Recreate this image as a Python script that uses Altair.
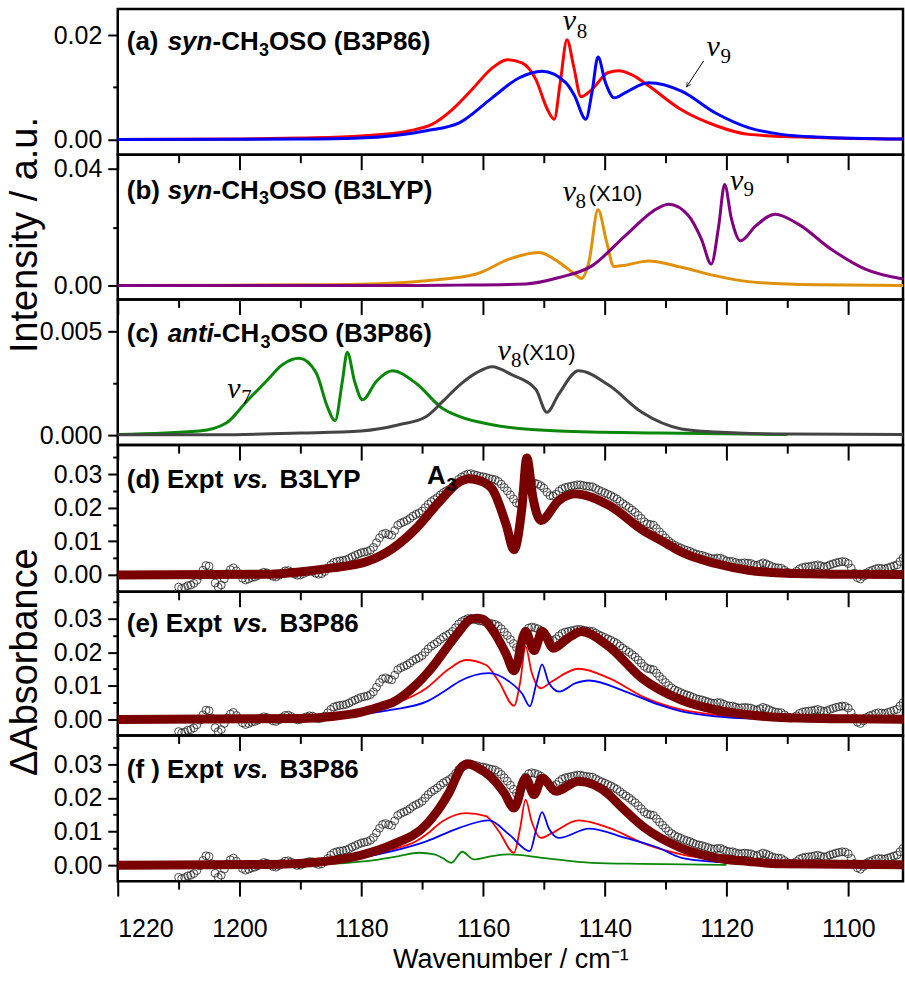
import altair as alt
import pandas as pd

# ---------------- data ----------------
X_DOMAIN = [1220, 1091]
X_MAJOR = [1220, 1200, 1180, 1160, 1140, 1120, 1100]
X_MINOR = [1210, 1190, 1170, 1150, 1130, 1110]

# (a) syn-CH3OSO (B3P86)
a_red_w = [1220, 1200, 1190, 1180, 1172, 1168.4, 1165, 1161.8, 1158.5, 1156, 1153.6, 1151.3, 1149.5, 1148.3,
           1147.3, 1146.2, 1145.1, 1143.9, 1142.1, 1139.5, 1137.7, 1135.5, 1132.8, 1127.4, 1121.8, 1116.4, 1105.4, 1091]
a_red_v = [0.0, 0.0001, 0.0003, 0.0007, 0.0017, 0.0029, 0.0058, 0.0096, 0.0137, 0.0153, 0.0147, 0.0115, 0.0060, 0.0039,
           0.0110, 0.0191, 0.0140, 0.0082, 0.0096, 0.0128, 0.0132, 0.0124, 0.0103, 0.0057, 0.0027, 0.0010, 0.0004, 0.0001]
a_blue_w = [1220, 1190, 1180.3, 1169.3, 1163.9, 1158.5, 1154.1, 1150.3, 1146.4, 1145, 1143.1, 1142.1, 1141.1, 1139.9,
            1138.4, 1136.6, 1132.8, 1127.4, 1121.8, 1116.4, 1111, 1105.4, 1091]
a_blue_v = [0.0, 0.0001, 0.0003, 0.0017, 0.0032, 0.0080, 0.0118, 0.0131, 0.0109, 0.0085, 0.0039, 0.0090, 0.0158, 0.0110,
            0.0080, 0.0090, 0.0109, 0.0093, 0.0051, 0.0023, 0.0010, 0.0005, 0.0001]

# (b) syn-CH3OSO (B3LYP)
b_orange_w = [1220, 1190, 1180.3, 1169.3, 1161.1, 1155.7, 1150.8, 1147.5, 1145, 1143.8, 1142.6, 1141.1, 1139.7, 1138.5,
              1137, 1132.8, 1127.4, 1121.8, 1116.4, 1105.4, 1091]
b_orange_v = [0.0, 0.0002, 0.0004, 0.0016, 0.0039, 0.0090, 0.0113, 0.0079, 0.0040, 0.0024, 0.0080, 0.0259, 0.0150, 0.0065,
              0.0068, 0.0084, 0.0062, 0.0033, 0.0013, 0.0002, 0.0]
b_purple_w = [1220, 1170, 1163.9, 1153, 1147.5, 1142.1, 1136.6, 1131.1, 1129.5, 1126.2, 1124.1, 1122.5, 1121.3, 1120.3,
              1119.2, 1117.7, 1115.2, 1112, 1108.2, 1102.8, 1097.2, 1091]
b_purple_v = [0.0, 0.0, 0.0001, 0.0005, 0.0027, 0.0067, 0.0171, 0.0267, 0.0278, 0.0238, 0.0158, 0.0073, 0.0200, 0.0346,
              0.0230, 0.0153, 0.0204, 0.0244, 0.0210, 0.0124, 0.0056, 0.0022]

# (c) anti-CH3OSO (B3P86)
c_green_w = [1220, 1206.6, 1202.1, 1198.9, 1195.6, 1192.9, 1190.2, 1187.4, 1185.6, 1184.3, 1183.1, 1182.3, 1181.1, 1179.8,
             1177.5, 1174.9, 1171, 1166.7, 1163.9, 1158.5, 1147.5, 1131, 1110]
c_green_v = [0.00003, 0.0002, 0.0006, 0.0016, 0.0026, 0.0034, 0.0037, 0.0030, 0.0014, 0.0007, 0.0026, 0.0040, 0.0026, 0.0017,
             0.0026, 0.0031, 0.0025, 0.0013, 0.0009, 0.0005, 0.0002, 0.0001, 0.00003]
c_gray_w = [1220, 1203.6, 1190, 1180, 1173.8, 1169.3, 1166.7, 1163.9, 1161.1, 1158.5, 1155.2, 1151.3, 1149.5, 1147.5,
            1144.3, 1139.3, 1133.9, 1127.4, 1121.8, 1110, 1091]
c_gray_v = [0.00002, 0.00002, 0.0001, 0.0002, 0.0005, 0.0009, 0.0016, 0.0024, 0.0030, 0.0033, 0.0029, 0.0022, 0.0011, 0.0020,
            0.0031, 0.0024, 0.0011, 0.0003, 0.00015, 0.00005, 0.00003]

# experimental spectrum (shared by d, e, f), sampled every 0.5 cm-1 from 1210 down to 1091
expt_w = [1210 - 0.5 * i for i in range(239)]
expt_v = [
    -0.0036, -0.0040, -0.0037, -0.0032, -0.0030, -0.0025, -0.0016, -0.0002, 0.0014, 0.0028,
    0.0026, 0.0004, -0.0024, -0.0036, -0.0030, -0.0012, 0.0004, 0.0016, 0.0021, 0.0012,
    0.0002, -0.0010, -0.0015, -0.0012, -0.0008, -0.0006, -0.0002, 0.0004, 0.0008, 0.0006,
    0.0001, -0.0004, -0.0006, -0.0001, 0.0006, 0.0012, 0.0013, 0.0009, 0.0003, -0.0001,
    0.0000, 0.0004, 0.0008, 0.0011, 0.0010, 0.0005, 0.0002, 0.0004, 0.0010, 0.0020,
    0.0030, 0.0037, 0.0040, 0.0042, 0.0043, 0.0045, 0.0049, 0.0054, 0.0058, 0.0062,
    0.0066, 0.0068, 0.0070, 0.0074, 0.0082, 0.0096, 0.0110, 0.0121, 0.0124, 0.0120,
    0.0118, 0.0132, 0.0148, 0.0154, 0.0158, 0.0162, 0.0168, 0.0175, 0.0180, 0.0184,
    0.0190, 0.0200, 0.0210, 0.0218, 0.0224, 0.0230, 0.0238, 0.0245, 0.0250, 0.0255,
    0.0262, 0.0273, 0.0284, 0.0291, 0.0296, 0.0300, 0.0301, 0.0298, 0.0296, 0.0293,
    0.0292, 0.0290, 0.0287, 0.0285, 0.0283, 0.0278, 0.0270, 0.0260, 0.0250, 0.0238,
    0.0226, 0.0214, 0.0210, 0.0240, 0.0262, 0.0272, 0.0275, 0.0273, 0.0270, 0.0265,
    0.0258, 0.0246, 0.0236, 0.0235, 0.0240, 0.0249, 0.0256, 0.0260, 0.0262, 0.0264,
    0.0266, 0.0268, 0.0268, 0.0266, 0.0264, 0.0263, 0.0262, 0.0257, 0.0252, 0.0248,
    0.0244, 0.0240, 0.0236, 0.0231, 0.0226, 0.0219, 0.0212, 0.0206, 0.0200, 0.0193,
    0.0186, 0.0177, 0.0168, 0.0158, 0.0152, 0.0150, 0.0148, 0.0138, 0.0128, 0.0119,
    0.0110, 0.0101, 0.0094, 0.0088, 0.0084, 0.0080, 0.0076, 0.0073, 0.0070, 0.0066,
    0.0062, 0.0060, 0.0058, 0.0055, 0.0052, 0.0049, 0.0048, 0.0050, 0.0050, 0.0046,
    0.0042, 0.0040, 0.0040, 0.0037, 0.0034, 0.0035, 0.0036, 0.0035, 0.0034, 0.0030,
    0.0028, 0.0032, 0.0036, 0.0033, 0.0029, 0.0025, 0.0022, 0.0021, 0.0020, 0.0014,
    0.0008, 0.0004, 0.0005, 0.0011, 0.0018, 0.0022, 0.0024, 0.0025, 0.0026, 0.0028,
    0.0030, 0.0027, 0.0024, 0.0026, 0.0030, 0.0033, 0.0036, 0.0038, 0.0040, 0.0039,
    0.0034, 0.0020, 0.0005, -0.0008, -0.0012, -0.0004, 0.0006, 0.0011, 0.0014, 0.0018,
    0.0020, 0.0019, 0.0018, 0.0021, 0.0024, 0.0027, 0.0030, 0.0040, 0.0050,
]

# (d) B3LYP fit
d_fit_w = [1220, 1195, 1190.2, 1184.8, 1179.2, 1174.9, 1171, 1167.2, 1163.9, 1162.3, 1160.5, 1158.5, 1156.2, 1154.9,
           1153.6, 1152.8, 1151.8, 1150.5, 1147.5, 1144.8, 1139.3, 1133.5, 1130, 1127.4, 1121.8, 1116.4, 1111, 1100, 1091]
d_fit_v = [0.0, 0.0002, 0.0009, 0.0021, 0.0039, 0.0078, 0.0138, 0.0217, 0.0276, 0.0286, 0.0280, 0.0256, 0.0150, 0.0075,
           0.0200, 0.0348, 0.0230, 0.0162, 0.0222, 0.0241, 0.0207, 0.0130, 0.0095, 0.0068, 0.0034, 0.0014, 0.0006, 0.0002, 0.0001]

# (e) B3P86 fit and its syn components
e_fit_w = [1220, 1190, 1184.8, 1180, 1176.6, 1174.9, 1171, 1169.3, 1167.5, 1165.6, 1163.9, 1162.3, 1161.1, 1160, 1158.5,
           1156.2, 1154.9, 1153, 1151.6, 1150.3, 1148.4, 1146.4, 1143.8, 1139.3, 1133.9, 1127.4, 1121.8, 1116.4, 1111, 1100, 1091]
e_fit_v = [0.0, 0.0003, 0.0009, 0.0022, 0.0040, 0.0050, 0.0103, 0.0135, 0.0175, 0.0222, 0.0262, 0.0295, 0.0301, 0.0298,
           0.0268, 0.0195, 0.0145, 0.0262, 0.0205, 0.0262, 0.0212, 0.0237, 0.0262, 0.0217, 0.0123, 0.0058, 0.0029, 0.0014,
           0.0006, 0.0002, 0.0001]
e_red_w = [1220, 1195, 1185, 1180.3, 1174.9, 1169.3, 1165.6, 1162.8, 1159.5, 1157.4, 1154.9, 1153.9, 1153, 1152, 1150.5,
           1148.7, 1144.3, 1139.3, 1133.5, 1127.4, 1121.8, 1116.4, 1105, 1091]
e_red_v = [0.0, 0.0003, 0.0008, 0.0019, 0.0044, 0.0093, 0.0150, 0.0177, 0.0162, 0.0113, 0.0041, 0.0110, 0.0217, 0.0140,
           0.0093, 0.0113, 0.0151, 0.0123, 0.0066, 0.0029, 0.0014, 0.0006, 0.0002, 0.0001]
e_blue_w = [1220, 1190, 1185, 1174.9, 1169.3, 1165.6, 1163.9, 1159, 1155.7, 1153.5, 1152.3, 1151.2, 1150.3, 1149.2, 1147.5,
            1144.8, 1142.6, 1136.6, 1131.1, 1127.4, 1121.8, 1116, 1091]
e_blue_v = [0.0, 0.0003, 0.0008, 0.0029, 0.0053, 0.0093, 0.0113, 0.0138, 0.0113, 0.0075, 0.0039, 0.0110, 0.0164, 0.0110,
            0.0083, 0.0108, 0.0116, 0.0083, 0.0044, 0.0024, 0.0009, 0.0003, 0.0001]

# (f) B3P86 fit with syn and anti components
f_fit_w = [1220, 1195, 1185.7, 1180, 1174.9, 1169.3, 1165.6, 1163.4, 1162.5, 1161.1, 1158.5, 1156.5, 1154.9, 1153, 1151.6,
           1150.3, 1148, 1144.3, 1139.3, 1138.2, 1133.5, 1127.4, 1121.8, 1116.4, 1111, 1091]
f_fit_v = [0.0, 0.0002, 0.0012, 0.0030, 0.0061, 0.0121, 0.0215, 0.0294, 0.0302, 0.0292, 0.0259, 0.0215, 0.0170, 0.0259,
           0.0210, 0.0259, 0.0220, 0.0250, 0.0210, 0.0190, 0.0112, 0.0051, 0.0022, 0.0011, 0.0004, 0.0001]
f_red_w = [1220, 1195, 1185, 1179, 1175, 1171, 1169.3, 1166.7, 1162.8, 1159.5, 1157.4, 1154.9, 1153.9, 1153, 1152, 1150.5,
           1148.7, 1144.3, 1139.3, 1133.5, 1127.4, 1121.8, 1116.4, 1105, 1091]
f_red_v = [0.0, 0.0003, 0.0012, 0.0030, 0.0047, 0.0071, 0.0091, 0.0130, 0.0155, 0.0146, 0.0101, 0.0037, 0.0110, 0.0195,
           0.0130, 0.0081, 0.0095, 0.0133, 0.0111, 0.0064, 0.0032, 0.0016, 0.0008, 0.0002, 0.0001]
f_blue_w = [1220, 1190, 1180.3, 1174.9, 1169.3, 1163.9, 1159, 1155.7, 1152.3, 1151.2, 1150.3, 1149.2, 1147.5, 1142.6,
            1136.6, 1131.1, 1127.4, 1121.8, 1116.4, 1091]
f_blue_v = [0.0, 0.0005, 0.0022, 0.0042, 0.0071, 0.0111, 0.0133, 0.0091, 0.0042, 0.0110, 0.0158, 0.0110, 0.0081, 0.0109,
            0.0081, 0.0051, 0.0022, 0.0010, 0.0005, 0.0001]
f_green_w = [1220, 1195, 1187.4, 1179.2, 1173.8, 1170.5, 1168, 1166.7, 1165.2, 1163.4, 1161.5, 1158.5, 1155.7, 1150.3,
             1142.1, 1133.9, 1120]
f_green_v = [0.0, 0.0001, 0.0002, 0.0012, 0.0027, 0.0037, 0.0032, 0.0022, 0.0007, 0.0040, 0.0017, 0.0027, 0.0032, 0.0022,
             0.0007, 0.0004, 0.0001]

# ---------------- styling ----------------
TICK_FONT = "Liberation Sans"
LABEL_FONT = "Liberation Sans"
GREEK_FONT = "Liberation Serif"
TITLE_FONT = "Liberation Sans"

RED, BLUE, ORANGE, PURPLE = "#ff0000", "#0000ff", "#e0900a", "#800080"
GREEN, GRAY, MAROON = "#0a870a", "#444444", "#7a0000"

XS = alt.Scale(domain=X_DOMAIN, nice=False, zero=False)


def yscale(dom):
    return alt.Scale(domain=dom, nice=False, zero=False)


def curve(w, v, color, width, ydom):
    df = pd.DataFrame({"w": w, "v": v})
    return alt.Chart(df).mark_line(color=color, strokeWidth=width, interpolate="monotone", clip=True).encode(
        x=alt.X("w:Q", scale=XS, axis=None),
        y=alt.Y("v:Q", scale=yscale(ydom), axis=None),
        order=alt.Order("w:Q", sort="descending"),
    )


def expt_points(ydom):
    df = pd.DataFrame({"w": expt_w, "v": expt_v})
    return alt.Chart(df).mark_point(shape="circle", filled=False, stroke="#202020", strokeWidth=0.8,
                                    size=62, opacity=1, clip=True).encode(
        x=alt.X("w:Q", scale=XS, axis=None),
        y=alt.Y("v:Q", scale=yscale(ydom), axis=None),
    )


def axis_layers(ydom, ymaj, ymin, fmt, last=False, ytitle=None, title_y=73):
    df = pd.DataFrame({"w": X_DOMAIN, "v": ydom})
    base = alt.Chart(df).mark_line(opacity=0)
    minor = base.encode(
        x=alt.X("w:Q", scale=XS, axis=alt.Axis(values=X_MINOR, orient="bottom", tickSize=8, labels=False,
                                                domain=False, grid=False, title=None)),
        y=alt.Y("v:Q", scale=yscale(ydom), axis=alt.Axis(values=ymin, orient="left", tickSize=5, labels=False,
                                                         domain=False, grid=False, title=None)),
    )
    xkw = dict(values=X_MAJOR, orient="bottom", tickSize=15, domain=False, grid=False)
    if last:
        xkw.update(labels=True, format="d", labelPadding=20, title="Wavenumber / cm\u207b\u00b9",
                   titleFont=TITLE_FONT, titleFontSize=27, titleFontWeight="normal", titlePadding=6)
    else:
        xkw.update(labels=False, title=None)
    ykw = dict(values=ymaj, orient="left", tickSize=10, format=fmt, labelPadding=6, domain=False, grid=False)
    if ytitle:
        ykw.update(title=ytitle, titleFont=TITLE_FONT, titleFontSize=38, titleFontWeight="normal",
                   titleX=-81, titleY=title_y, titleAngle=270, titleAlign="center", titleBaseline="alphabetic")
    else:
        ykw.update(title=None)
    major = base.encode(
        x=alt.X("w:Q", scale=XS, axis=alt.Axis(**xkw)),
        y=alt.Y("v:Q", scale=yscale(ydom), axis=alt.Axis(**ykw)),
    )
    return [minor, major]


def text(t, w, v, ydom, size, font=LABEL_FONT, weight="bold", style="normal", color="black"):
    df = pd.DataFrame({"w": [w], "v": [v], "t": [t]})
    return alt.Chart(df).mark_text(align="left", baseline="alphabetic", font=font, fontSize=size,
                                   fontWeight=weight, fontStyle=style, color=color).encode(
        x=alt.X("w:Q", scale=XS, axis=None),
        y=alt.Y("v:Q", scale=yscale(ydom), axis=None),
        text="t:N",
    )


def nu(sym, sub, w, v, w2, v2, ydom):
    return [text(sym, w, v, ydom, 30, font=GREEK_FONT, weight="normal", style="italic"),
            text(sub, w2, v2, ydom, 21, font=GREEK_FONT, weight="normal", style="normal")]


def panel(layers, height):
    return alt.layer(*layers).resolve_axis(x="independent", y="independent").properties(width=787, height=height)


LBL = 26
SUB = 18

# ---- panel a ----
ya = [-0.0029, 0.025]
pa = panel(axis_layers(ya, [0.0, 0.02], [0.01], ".2f") + [
    curve(a_red_w, a_red_v, RED, 3, ya),
    curve(a_blue_w, a_blue_v, BLUE, 3, ya),
    text("(a) ", 1218.52, 0.01714, ya, LBL),
    text("syn", 1211.80, 0.01714, ya, LBL, style="italic"),
    text("-CH", 1204.43, 0.01714, ya, LBL),
    text("3", 1196.8, 0.01600, ya, SUB),
    text("OSO (B3P86)", 1195.16, 0.01714, ya, LBL),
] + nu("\u03bd", "8", 1146.9, 0.02095, 1144.6, 0.01943, ya)
  + nu("\u03bd", "9", 1123.3, 0.0160, 1121.0, 0.01467, ya) + [
    alt.Chart(pd.DataFrame({"w": [1123.77], "v": [0.01505], "w2": [1126.56], "v2": [0.0101]})).mark_rule(
        color="black", strokeWidth=1).encode(
        x=alt.X("w:Q", scale=XS, axis=None), x2="w2:Q",
        y=alt.Y("v:Q", scale=yscale(ya), axis=None), y2="v2:Q"),
    alt.Chart(pd.DataFrame({"w": [1126.56], "v": [0.0101]})).mark_point(
        shape="M -0.6 1.2 L 0 0 L 0.6 1.2", filled=False, color="black", strokeWidth=1, size=60,
        angle=214).encode(
        x=alt.X("w:Q", scale=XS, axis=None), y=alt.Y("v:Q", scale=yscale(ya), axis=None)),
], 146)

# ---- panel b ----
yb = [-0.0048, 0.0448]
pb = panel(axis_layers(yb, [0.0, 0.04], [0.02], ".2f", ytitle="Intensity / a.u.", title_y=80) + [
    curve(b_orange_w, b_orange_v, ORANGE, 3, yb),
    curve(b_purple_w, b_purple_v, PURPLE, 3, yb),
    text("(b) ", 1218.52, 0.02974, yb, LBL),
    text("syn", 1211.80, 0.02974, yb, LBL, style="italic"),
    text("-CH", 1204.43, 0.02974, yb, LBL),
    text("3", 1196.8, 0.02790, yb, SUB),
    text("OSO (B3LYP)", 1195.16, 0.02974, yb, LBL),
] + nu("\u03bd", "8", 1146.9, 0.02906, 1144.8, 0.02667, yb) + [
    text("(X10)", 1142.62, 0.02906, yb, 22, font=TITLE_FONT, weight="normal"),
] + nu("\u03bd", "9", 1119.4, 0.03282, 1117.2, 0.03077, yb), 145)

# ---- panel c ----
yc = [-0.00048, 0.00654]
pc = panel(axis_layers(yc, [0.0, 0.005], [0.0025], ".3f") + [
    curve(c_green_w, c_green_v, GREEN, 3, yc),
    curve(c_gray_w, c_gray_v, GRAY, 3, yc),
    text("(c) ", 1218.52, 0.00447, yc, LBL),
    text("anti", 1211.80, 0.00447, yc, LBL, style="italic"),
    text("-CH", 1204.34, 0.00447, yc, LBL),
    text("3", 1196.56, 0.00418, yc, SUB),
    text("OSO (B3P86)", 1194.92, 0.00447, yc, LBL),
] + nu("\u03bd", "7", 1202.0, 0.00178, 1199.7, 0.00149, yc)
  + nu("\u03bd", "8", 1157.6, 0.0036, 1155.4, 0.00327, yc) + [
    text("(X10)", 1153.61, 0.0036, yc, 22, font=TITLE_FONT, weight="normal"),
], 146)

# ---- panel d ----
yd = [-0.005, 0.0386]
EXP_MAJ = [0.0, 0.01, 0.02, 0.03]
EXP_MIN = [0.005, 0.015, 0.025, 0.035]
pd_ = panel(axis_layers(yd, EXP_MAJ, EXP_MIN, ".2f") + [
    expt_points(yd),
    curve(d_fit_w, d_fit_v, MAROON, 9, yd),
    text("(d) Expt ", 1218.52, 0.02584, yd, LBL),
    text("vs.", 1201.15, 0.02584, yd, LBL, style="italic"),
    text("B3LYP", 1193.44, 0.02584, yd, LBL),
    text("A", 1169.18, 0.0270, yd, LBL),
    text("3", 1166.0, 0.02510, yd, SUB),
], 147)

# ---- panel e ----
ye = [-0.00475, 0.038]
pe = panel(axis_layers(ye, EXP_MAJ, EXP_MIN, ".2f", ytitle="\u0394Absorbance", title_y=70) + [
    expt_points(ye),
    curve(e_red_w, e_red_v, RED, 1.8, ye),
    curve(e_blue_w, e_blue_v, BLUE, 1.8, ye),
    curve(e_fit_w, e_fit_v, MAROON, 9, ye),
    text("(e) Expt ", 1218.52, 0.02614, ye, LBL),
    text("vs.", 1201.15, 0.02614, ye, LBL, style="italic"),
    text("B3P86", 1193.44, 0.02614, ye, LBL),
], 144)

# ---- panel f ----
yf = [-0.00475, 0.0386]
pf = panel(axis_layers(yf, EXP_MAJ, EXP_MIN, ".2f", last=True) + [
    expt_points(yf),
    curve(f_red_w, f_red_v, RED, 1.8, yf),
    curve(f_blue_w, f_blue_v, BLUE, 1.8, yf),
    curve(f_green_w, f_green_v, GREEN, 1.8, yf),
    curve(f_fit_w, f_fit_v, MAROON, 9, yf),
    text("(f ) Expt ", 1218.52, 0.02584, yf, LBL),
    text("vs.", 1201.15, 0.02584, yf, LBL, style="italic"),
    text("B3P86", 1193.44, 0.02584, yf, LBL),
], 146)

chart = alt.vconcat(pa, pb, pc, pd_, pe, pf, spacing=0, bounds="flush").properties(
    padding={"left": 5, "top": 3, "right": 0, "bottom": 0},
    background="white",
).configure_view(stroke="black", strokeWidth=2.5).configure_axis(
    tickColor="black", tickWidth=2, labelColor="black", labelFont=TICK_FONT, labelFontSize=25,
    titleColor="black",
)

chart.save("out.html", embed_options={"renderer": "svg", "actions": False})
